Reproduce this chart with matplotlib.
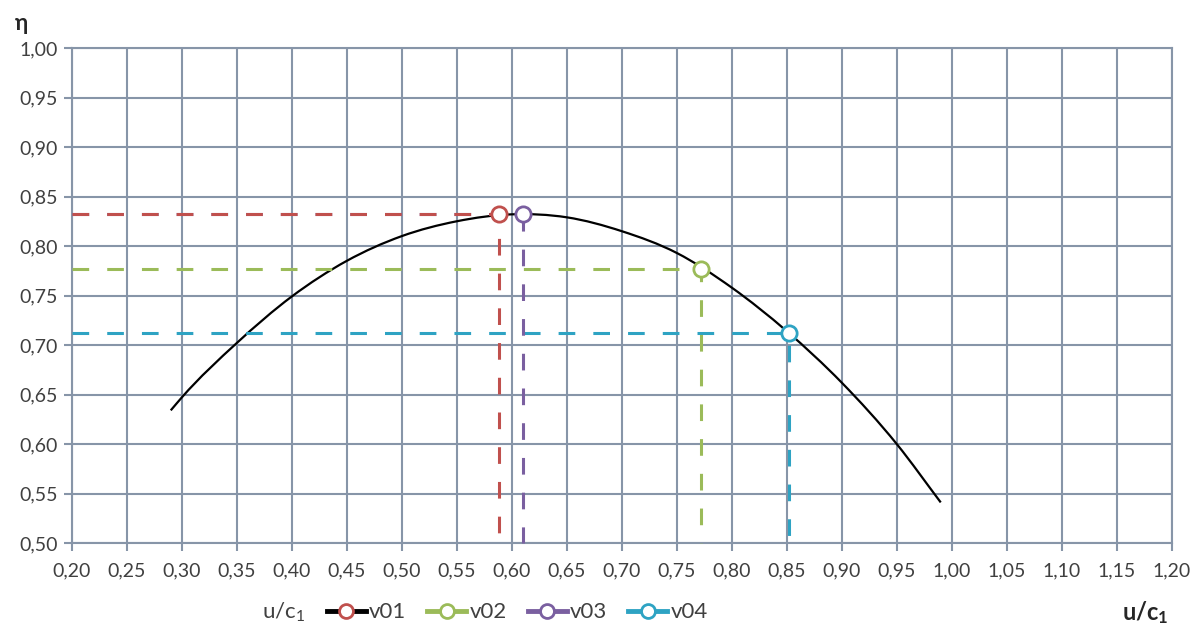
import numpy as np
import matplotlib
matplotlib.use("Agg")
import matplotlib.pyplot as plt
from matplotlib.path import Path
from matplotlib.patches import PathPatch
from matplotlib.lines import Line2D

plt.rcParams['font.family'] = ['Lato', 'DejaVu Sans']
plt.rcParams['mathtext.default'] = 'regular'
plt.rcParams['lines.scale_dashes'] = False

# efficiency curve eta(u/c1)
uc = [0.29, 0.30, 0.35, 0.40, 0.45, 0.50, 0.55, 0.60, 0.65, 0.70,
      0.75, 0.80, 0.85, 0.90, 0.95, 0.99]
eta = [0.634, 0.647, 0.702, 0.749, 0.785, 0.810, 0.825, 0.832, 0.829, 0.815,
       0.793, 0.758, 0.714, 0.662, 0.600, 0.541]

# operating points
names = ['v01', 'v02', 'v03', 'v04']
pt_uc = [0.588, 0.772, 0.610, 0.852]
pt_eta = [0.832, 0.777, 0.832, 0.712]
colors = ['#c0504d', '#9bbb59', '#7a5fa0', '#2ea3c3']

x_ticks = np.round(np.arange(0.20, 1.201, 0.05), 2)
y_ticks = np.round(np.arange(0.50, 1.001, 0.05), 2)

grid_c = '#8795a8'
text_c = '#404040'

fig = plt.figure(figsize=(11.92, 6.32), dpi=100)
ax = fig.add_axes([0.0602, 0.1408, 0.9228, 0.7832])
ax.set_xlim(0.20, 1.20)
ax.set_ylim(0.50, 1.00)

ax.set_xticks(x_ticks)
ax.set_xticklabels([f"{v:.2f}".replace('.', ',') for v in x_ticks])
ax.set_yticks(y_ticks)
ax.set_yticklabels([f"{v:.2f}".replace('.', ',') for v in y_ticks])
ax.tick_params(length=6, width=1.5, color=grid_c, labelsize=14,
               labelcolor=text_c)
ax.tick_params(axis='x', pad=8)
ax.tick_params(axis='y', pad=4)
ax.grid(True, color=grid_c, lw=1.5)
ax.set_axisbelow(True)
for s in ax.spines.values():
    s.set_color(grid_c)
    s.set_linewidth(1.5)

# smooth curve: cubic hermite in x, drawn as bezier segments
x = np.array(uc)
y = np.array(eta)
h = np.diff(x)
d = np.diff(y) / h
m = np.empty_like(y)
m[0] = d[0]
m[-1] = d[-1]
m[1:-1] = (d[1:] * h[:-1] + d[:-1] * h[1:]) / (h[:-1] + h[1:])
verts = [(x[0], y[0])]
codes = [Path.MOVETO]
for i in range(len(x) - 1):
    verts += [(x[i] + h[i] / 3, y[i] + m[i] * h[i] / 3),
              (x[i + 1] - h[i] / 3, y[i + 1] - m[i + 1] * h[i] / 3),
              (x[i + 1], y[i + 1])]
    codes += [Path.CURVE4] * 3
ax.add_patch(PathPatch(Path(verts, codes), fc='none', ec='black', lw=1.6,
                       zorder=3))

# dashed guides and markers, first series on top
for k, (px, py, c) in enumerate(zip(pt_uc, pt_eta, colors)):
    z = 10 - k
    ax.plot([0.20, px, px], [py, py, 0.50], color=c, lw=2.2,
            dashes=(12, 13), zorder=z, clip_on=False)
    ax.plot(px, py, 'o', ms=11, mfc='white', mec=c, mew=2, zorder=z + 0.5)

# legend
handles = []
for n, c in zip(names, colors):
    lc = 'black' if n == 'v01' else c
    handles.append(Line2D([], [], color=lc, lw=3.5, marker='o', ms=10,
                          mfc='white', mec=c, mew=2))
fig.legend(handles, names, loc='center', bbox_to_anchor=(0.434, 0.031),
           ncol=4, frameon=False, fontsize=16, handlelength=1.75,
           handletextpad=0.15, columnspacing=0.95, labelcolor=text_c)
fig.text(0.238, 0.031, 'u/c$_1$', fontsize=16, color=text_c,
         ha='center', va='center')
fig.text(0.961, 0.031, 'u/c$_1$', fontsize=17, fontweight='bold',
         color='#262626', ha='center', va='center')
fig.text(0.018, 0.963, 'η', fontsize=16, fontweight='bold',
         color='#262626', ha='center', va='center')

fig.savefig('out.png', dpi=100)
